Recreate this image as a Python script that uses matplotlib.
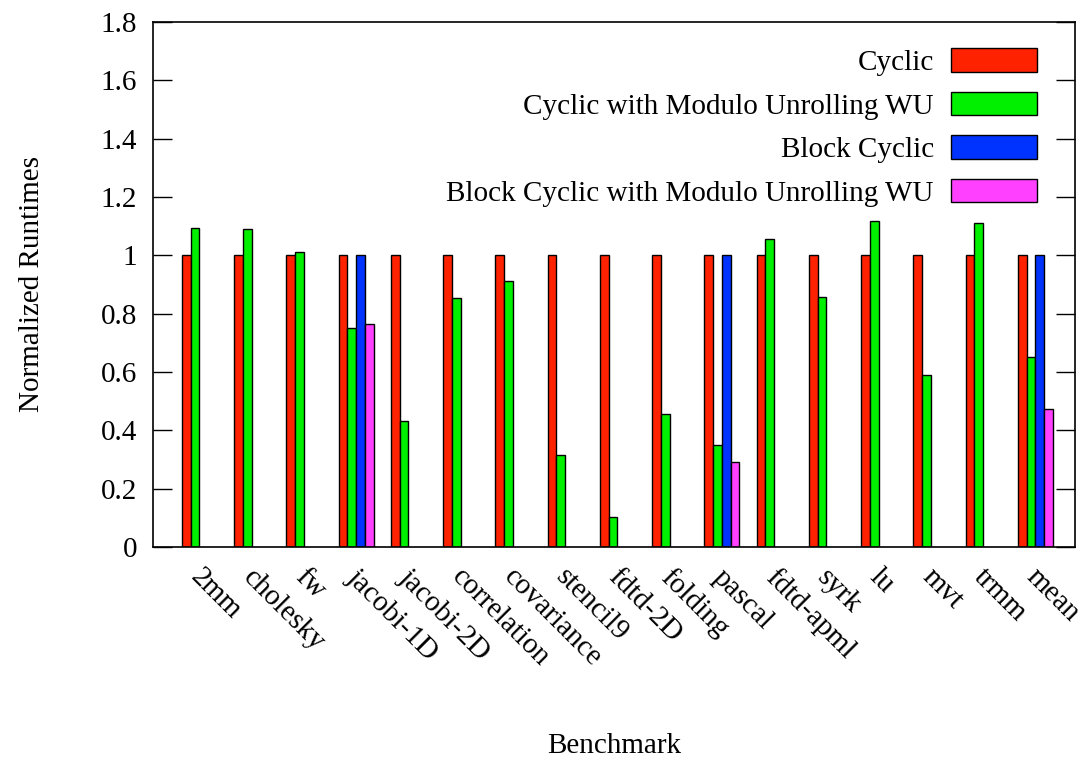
import matplotlib
matplotlib.use("Agg")
import matplotlib.pyplot as plt
import matplotlib.transforms as mtransforms
import numpy as np
from matplotlib.ticker import FormatStrFormatter, MultipleLocator

benchmarks = ["2mm", "cholesky", "fw", "jacobi-1D", "jacobi-2D", "correlation",
              "covariance", "stencil9", "fdtd-2D", "folding", "pascal", "fdtd-apml",
              "syrk", "lu", "mvt", "trmm", "mean"]
series_names = ["Cyclic", "Cyclic with Modulo Unrolling WU", "Block Cyclic",
                "Block Cyclic with Modulo Unrolling WU"]
cyclic = [1, 1, 1, 1, 1, 1, 1, 1, 1, 1, 1, 1, 1, 1, 1, 1, 1]
cyclic_wu = [1.092, 1.089, 1.012, 0.75, 0.432, 0.853, 0.911, 0.315, 0.103, 0.455,
             0.349, 1.055, 0.856, 1.116, 0.589, 1.11, 0.651]
block_cyclic = [np.nan, np.nan, np.nan, 1.0, np.nan, np.nan, np.nan, np.nan, np.nan,
                np.nan, 1.0, np.nan, np.nan, np.nan, np.nan, np.nan, 1.0]
block_cyclic_wu = [np.nan, np.nan, np.nan, 0.765, np.nan, np.nan, np.nan, np.nan, np.nan,
                   np.nan, 0.292, np.nan, np.nan, np.nan, np.nan, np.nan, 0.473]
colors = ["#ff2200", "#00f000", "#0033ff", "#ff40ff"]

plt.rcParams['font.family'] = ['Liberation Serif', 'DejaVu Serif']
fs = 21

fig = plt.figure(figsize=(10.88, 7.64), dpi=100)
ax = fig.add_axes([153/1088, 1 - 547/764, (1075-153)/1088, (547-22)/764])

x = np.arange(len(benchmarks))
w = 1/6
all_series = [cyclic, cyclic_wu, block_cyclic, block_cyclic_wu]
for k, (vals, name, c) in enumerate(zip(all_series, series_names, colors)):
    ax.bar(x + (k - 1.5) * w, vals, width=w, color=c, edgecolor="black",
           linewidth=1.0, label=name)

ax.set_xlim(-0.888, 16.758)
ax.set_ylim(0, 1.8)
ax.yaxis.set_major_locator(MultipleLocator(0.2))
ax.yaxis.set_major_formatter(FormatStrFormatter('%g'))
ax.tick_params(axis='y', direction='in', length=14, width=1, right=True,
               labelsize=fs, pad=11.5)
ax.set_xticks(x)
ax.set_xticklabels(benchmarks)
ax.tick_params(axis='x', length=0, labelsize=fs, pad=19)
offset = mtransforms.ScaledTranslation(-5/100, 0, fig.dpi_scale_trans)
for lbl in ax.get_xticklabels():
    lbl.set_rotation(-45)
    lbl.set_ha('left')
    lbl.set_va('center')
    lbl.set_rotation_mode('anchor')
    lbl.set_transform(lbl.get_transform() + offset)
for s in ax.spines.values():
    s.set_linewidth(1.2)

ax.set_ylabel("Normalized Runtimes", fontsize=fs)
ax.yaxis.set_label_coords(-0.117, 0.5)
ax.set_xlabel("Benchmark", fontsize=fs)
ax.xaxis.set_label_coords(0.5, -0.355)

leg = ax.legend(loc='upper right', bbox_to_anchor=(0.987, 1.0), frameon=False,
                markerfirst=False, fontsize=fs, handlelength=2.95, handleheight=0.86,
                labelspacing=0.54, handletextpad=0.58)

fig.savefig("out.png", dpi=100)
